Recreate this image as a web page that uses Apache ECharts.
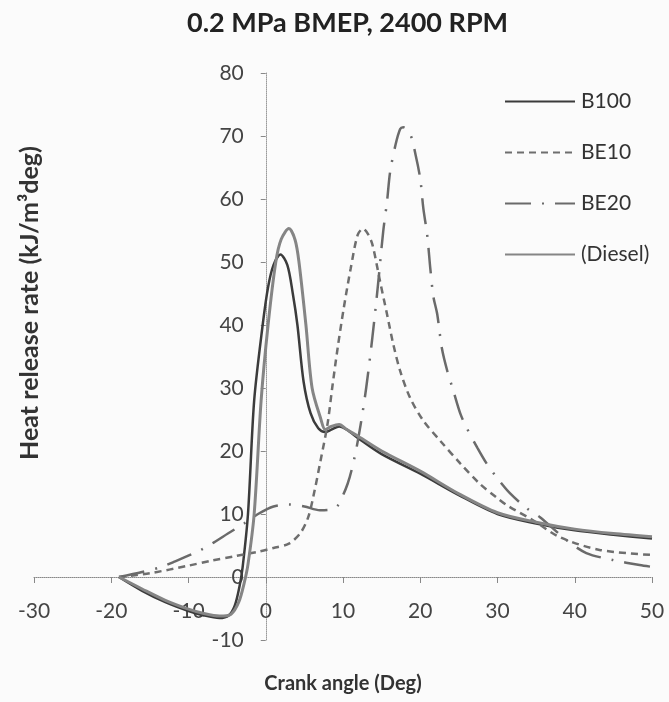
<!DOCTYPE html>
<html>
<head>
<meta charset="utf-8">
<script src="https://cdn.jsdelivr.net/npm/echarts@6/dist/echarts.min.js"></script>
<style>
  html, body { margin: 0; padding: 0; background: #fbfbfb; }
  #chart { width: 669px; height: 702px; }
</style>
</head>
<body>
<div id="chart"></div>
<script>
// Heat release rate vs crank angle, 0.2 MPa BMEP at 2400 RPM
const xTicks = [-30, -20, -10, 0, 10, 20, 30, 40, 50];
const yTicks = [-10, 0, 10, 20, 30, 40, 50, 60, 70, 80];
const seriesNames = ['B100', 'BE10', 'BE20', '(Diesel)'];

// [crank angle (deg), heat release rate (kJ/m3deg)]
const b100 = [
  [-19, 0], [-16, -2.2], [-13, -4], [-10, -5.4], [-8, -6.1], [-6, -6.5], [-4.8, -6.1],
  [-4, -4.5], [-3.4, -1.5], [-3, 1.5], [-2.3, 10], [-1.5, 28], [-0.4, 40], [0.3, 46],
  [1, 49.5], [1.9, 51.2], [2.8, 49.5], [3.5, 45], [4.1, 40], [4.9, 31], [5.8, 26],
  [6.8, 23.6], [7.7, 23], [8.5, 23.4], [9.5, 23.9], [10.5, 23.4], [12, 22], [15, 19.5],
  [20, 16.4], [25, 13], [30, 10], [35, 8.5], [40, 7.4], [45, 6.7], [50, 6.1]
];
const diesel = [
  [-19, 0], [-16, -1.9], [-13, -3.7], [-10, -5.1], [-8, -5.8], [-6, -6.2], [-4.5, -5.9],
  [-3.5, -4], [-2.8, -1], [-2.3, 2], [-1.5, 10], [-0.6, 28], [0.3, 40], [1.3, 50],
  [2, 53.6], [3, 55.3], [3.8, 53.5], [4.3, 50], [5.2, 40], [6, 30], [7.1, 25.2],
  [7.7, 23.4], [8.5, 23.9], [9.5, 24.2], [10.5, 23.4], [12, 22.3], [15, 20],
  [20, 16.8], [25, 13.2], [30, 10.2], [35, 8.7], [40, 7.6], [45, 6.9], [50, 6.4]
];
const be10 = [
  [-19, 0], [-15, 0.6], [-10, 1.8], [-7, 2.6], [-4, 3.3], [-1, 4], [1, 4.6], [3, 5.3],
  [4.5, 7], [5.5, 9.5], [6.2, 13], [7.1, 18.5], [8, 24.3], [8.6, 30], [9.3, 36.3],
  [10.1, 42.7], [11, 49], [11.9, 54.3], [12.6, 55.3], [13.2, 54.5], [13.8, 52.8],
  [14.8, 46.9], [15.7, 41.7], [16.5, 37], [17.4, 32.7], [18.7, 28.4], [20.4, 24.8],
  [22.6, 21.6], [25.2, 18], [27.7, 14.8], [29.9, 12.6], [31.2, 11.4], [34.6, 9],
  [38.1, 6.3], [43.2, 4.3], [50, 3.5]
];
const be20 = [
  [-19, 0], [-16, 0.8], [-13.5, 1.6], [-11.9, 2.4], [-8.4, 4.3], [-6.7, 5.5], [-4.9, 6.9],
  [-2.8, 8.5], [-1, 10], [1, 11.2], [3, 11.5], [5, 11.2], [7, 10.6], [8.5, 10.7],
  [9.3, 11.3], [10.6, 14.8], [11.5, 19], [12.3, 24.3], [13, 30], [13.8, 38], [14.5, 46],
  [15.2, 54.8], [15.7, 59.6], [16.1, 64.3], [16.8, 68.6], [17.4, 71.1], [17.8, 71.4],
  [18.7, 70.3], [19.4, 67], [20, 63.2], [20.4, 58.5], [20.9, 54.3], [21.3, 49],
  [21.7, 44.5], [22.2, 41.7], [22.8, 36.3], [23.5, 32.7], [24.3, 29.5], [25.2, 25.9],
  [26, 23.7], [27.4, 20.5], [28.6, 18], [29.9, 15.8], [31.6, 13.3], [33.8, 10.9],
  [35.5, 9.5], [39, 5.8], [41.5, 3.8], [44.9, 2.7], [48.4, 1.9], [50, 1.6]
];

const FONT = 'Lato, "Open Sans", sans-serif';
const chart = echarts.init(document.getElementById('chart'), null, { renderer: 'canvas' });

// Plot area in pixels; the axes cross at (0, 0), so each axis is shifted inward
const GRID = { left: 34, right: 17, top: 73, bottom: 62 };
const PLOT_W = 669 - GRID.left - GRID.right;
const PLOT_H = 702 - GRID.top - GRID.bottom;
const xSpan = xTicks[xTicks.length - 1] - xTicks[0];
const ySpan = yTicks[yTicks.length - 1] - yTicks[0];
const yAxisOffset = -PLOT_W * (0 - xTicks[0]) / xSpan;
const xAxisOffset = -PLOT_H * (0 - yTicks[0]) / ySpan;

const lineSeries = (name, data, color, width, type) => ({
  name, type: 'line', data, smooth: 0.3, symbol: 'none',
  lineStyle: { color, width, type },
  itemStyle: { color },
  z: 3
});

chart.setOption({
  animation: false,
  backgroundColor: '#fbfbfb',
  textStyle: { fontFamily: FONT },
  title: {
    text: '0.2 MPa BMEP, 2400 RPM',
    left: 182, top: 5,
    textStyle: { fontFamily: FONT, fontWeight: 'bold', fontSize: 27, color: '#222' }
  },
  legend: {
    data: seriesNames,
    orient: 'vertical',
    left: 499, top: 86,
    itemWidth: 70, itemHeight: 20, itemGap: 30,
    itemStyle: { opacity: 0 },
    textStyle: { fontFamily: FONT, fontSize: 21, color: '#333', padding: [0, 0, 0, 1] }
  },
  graphic: [{
    type: 'text',
    x: 30, y: 303, rotation: Math.PI / 2,
    style: {
      text: 'Heat release rate (kJ/m³deg)',
      font: 'bold 25px ' + FONT, fill: '#333',
      align: 'center', verticalAlign: 'middle'
    }
  }],
  grid: Object.assign({ containLabel: false, outerBoundsMode: 'none' }, GRID),
  xAxis: {
    type: 'value', min: xTicks[0], max: xTicks[xTicks.length - 1], interval: 10,
    position: 'bottom', offset: xAxisOffset,
    name: 'Crank angle (Deg)', nameLocation: 'middle', nameGap: 97,
    nameTextStyle: { fontFamily: FONT, fontWeight: 'bold', fontSize: 20, color: '#333' },
    axisLine: { onZero: false, lineStyle: { color: '#888', width: 1, type: 'dotted' } },
    axisTick: { show: true, inside: false, length: 6, lineStyle: { color: '#888' } },
    axisLabel: { margin: 24, fontSize: 21, color: '#444', fontFamily: FONT },
    splitLine: { show: false }
  },
  yAxis: {
    type: 'value', min: yTicks[0], max: yTicks[yTicks.length - 1], interval: 10,
    position: 'left', offset: yAxisOffset,
    axisLine: { show: true, onZero: false, lineStyle: { color: '#999', width: 1, type: 'dotted' } },
    axisTick: { show: true, length: 5, lineStyle: { color: '#888' } },
    axisLabel: { margin: 22, fontSize: 21, color: '#444', fontFamily: FONT },
    splitLine: { show: false }
  },
  series: [
    lineSeries('B100', b100, '#3b3b3b', 2.5, 'solid'),
    lineSeries('BE10', be10, '#6e6e6e', 2.5, [7, 5]),
    lineSeries('BE20', be20, '#6a6a6a', 2.5, [26, 11, 2, 11]),
    lineSeries('(Diesel)', diesel, '#858585', 3, 'solid')
  ]
});
</script>
</body>
</html>
